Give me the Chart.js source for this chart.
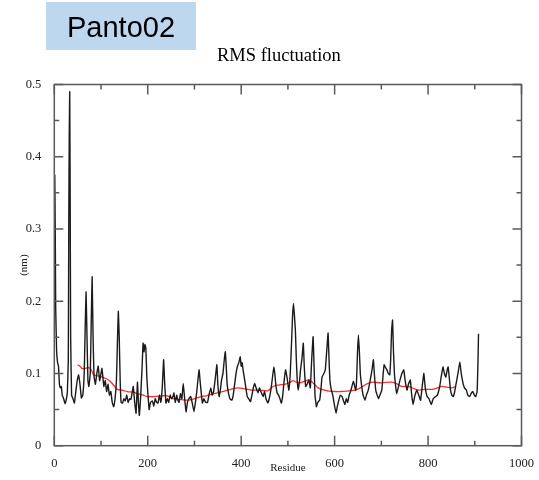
<!DOCTYPE html>
<html>
<head>
<meta charset="utf-8">
<script src="https://cdn.jsdelivr.net/npm/chart.js@4.4.0/dist/chart.umd.min.js"></script>
<style>
  html, body { margin: 0; padding: 0; background: #fff; }
  #wrap { position: relative; width: 539px; height: 480px; }
</style>
</head>
<body>
<div id="wrap"><canvas id="grafico-rmsf" width="539" height="480"></canvas></div>
<script>
/* RMSF por residuo (nm) */
const RESIDUOS = [1, 2, 3, 5, 7, 9, 11, 13, 15, 17, 20, 23, 26, 28, 30, 31, 32, 33, 34, 35, 37, 40, 43, 46, 49, 52, 55, 58, 61, 64, 66, 68, 70, 72, 74, 77, 79, 81, 83, 85, 88, 91, 94, 97, 100, 102, 104, 106, 109, 112, 115, 118, 121, 124, 127, 130, 133, 135, 137, 139, 141, 143, 146, 149, 152, 155, 158, 161, 164, 167, 169, 172, 175, 178, 180, 182, 185, 188, 190, 192, 194, 196, 198, 200, 203, 206, 210, 213, 216, 219, 222, 225, 228, 231, 234, 236, 239, 242, 245, 248, 251, 254, 256, 259, 262, 264, 267, 270, 273, 276, 279, 282, 285, 288, 292, 295, 299, 302, 305, 308, 310, 312, 315, 317, 320, 324, 328, 331, 335, 338, 341, 344, 348, 350, 353, 356, 358, 361, 364, 366, 368, 370, 373, 376, 380, 383, 386, 389, 392, 395, 398, 400, 402, 404, 407, 410, 413, 416, 420, 423, 426, 429, 432, 436, 439, 442, 447, 450, 453, 457, 460, 463, 465, 468, 470, 472, 474, 477, 480, 483, 486, 489, 492, 495, 498, 502, 505, 508, 510, 512, 514, 516, 518, 520, 522, 525, 527, 530, 533, 535, 538, 541, 545, 548, 551, 554, 556, 558, 561, 564, 568, 571, 573, 577, 580, 583, 586, 588, 590, 593, 596, 600, 603, 606, 609, 612, 616, 619, 622, 625, 628, 631, 634, 637, 640, 642, 645, 647, 649, 651, 653, 655, 658, 661, 665, 668, 672, 676, 680, 683, 685, 688, 691, 694, 697, 701, 704, 706, 709, 712, 715, 718, 720, 722, 724, 726, 728, 731, 733, 736, 740, 744, 748, 751, 755, 758, 762, 765, 768, 772, 776, 780, 784, 788, 791, 794, 798, 802, 807, 811, 816, 820, 825, 828, 832, 835, 838, 841, 843, 846, 848, 851, 854, 857, 860, 864, 868, 871, 875, 878, 882, 885, 889, 892, 896, 899, 902, 905, 907, 908];
const RMSF = [0.375, 0.30, 0.19, 0.13, 0.115, 0.11, 0.085, 0.08, 0.082, 0.07, 0.065, 0.058, 0.065, 0.075, 0.12, 0.31, 0.43, 0.49, 0.34, 0.15, 0.07, 0.065, 0.059, 0.075, 0.09, 0.098, 0.085, 0.066, 0.07, 0.1, 0.16, 0.213, 0.15, 0.09, 0.082, 0.1, 0.17, 0.234, 0.15, 0.096, 0.085, 0.1, 0.11, 0.09, 0.1, 0.107, 0.095, 0.082, 0.09, 0.075, 0.085, 0.07, 0.075, 0.06, 0.054, 0.065, 0.09, 0.14, 0.186, 0.15, 0.09, 0.06, 0.059, 0.065, 0.062, 0.07, 0.06, 0.065, 0.064, 0.075, 0.082, 0.06, 0.045, 0.088, 0.06, 0.042, 0.07, 0.11, 0.142, 0.13, 0.14, 0.135, 0.095, 0.075, 0.05, 0.06, 0.062, 0.055, 0.065, 0.06, 0.059, 0.07, 0.06, 0.08, 0.119, 0.09, 0.059, 0.065, 0.06, 0.07, 0.065, 0.068, 0.073, 0.06, 0.07, 0.064, 0.06, 0.072, 0.065, 0.086, 0.065, 0.047, 0.06, 0.065, 0.068, 0.06, 0.047, 0.06, 0.075, 0.095, 0.105, 0.09, 0.07, 0.059, 0.065, 0.06, 0.06, 0.07, 0.08, 0.07, 0.075, 0.09, 0.112, 0.085, 0.068, 0.08, 0.091, 0.1, 0.12, 0.13, 0.11, 0.085, 0.072, 0.065, 0.063, 0.07, 0.085, 0.1, 0.11, 0.115, 0.123, 0.11, 0.115, 0.105, 0.093, 0.08, 0.068, 0.065, 0.061, 0.07, 0.08, 0.086, 0.08, 0.073, 0.08, 0.075, 0.068, 0.075, 0.065, 0.059, 0.065, 0.075, 0.084, 0.1, 0.109, 0.1, 0.085, 0.073, 0.07, 0.065, 0.059, 0.07, 0.09, 0.105, 0.095, 0.077, 0.1, 0.146, 0.18, 0.197, 0.18, 0.16, 0.12, 0.09, 0.077, 0.09, 0.105, 0.12, 0.142, 0.11, 0.082, 0.085, 0.091, 0.08, 0.12, 0.151, 0.11, 0.07, 0.054, 0.06, 0.063, 0.08, 0.095, 0.1, 0.105, 0.13, 0.156, 0.12, 0.09, 0.077, 0.07, 0.055, 0.045, 0.055, 0.063, 0.07, 0.068, 0.062, 0.057, 0.065, 0.06, 0.07, 0.075, 0.082, 0.089, 0.085, 0.077, 0.09, 0.13, 0.153, 0.13, 0.1, 0.082, 0.07, 0.063, 0.07, 0.077, 0.09, 0.105, 0.119, 0.1, 0.077, 0.07, 0.065, 0.07, 0.077, 0.1, 0.112, 0.108, 0.105, 0.1, 0.098, 0.12, 0.16, 0.174, 0.13, 0.1, 0.08, 0.072, 0.08, 0.091, 0.1, 0.105, 0.09, 0.077, 0.085, 0.091, 0.07, 0.057, 0.07, 0.077, 0.07, 0.063, 0.085, 0.1, 0.08, 0.068, 0.065, 0.057, 0.065, 0.068, 0.07, 0.082, 0.095, 0.109, 0.1, 0.095, 0.105, 0.109, 0.09, 0.077, 0.07, 0.068, 0.075, 0.086, 0.1, 0.116, 0.1, 0.086, 0.08, 0.077, 0.07, 0.068, 0.072, 0.075, 0.07, 0.068, 0.075, 0.12, 0.155];

/* Media movel (linha vermelha) */
const RESIDUOS_MEDIA = [50, 55, 59, 65, 72, 77, 80, 84, 90, 99, 110, 120, 128, 135, 145, 156, 170, 178, 190, 199, 215, 228, 242, 253, 270, 285, 300, 314, 325, 342, 360, 378, 393, 405, 421, 440, 457, 468, 480, 493, 505, 511, 518, 525, 535, 545, 552, 558, 565, 572, 585, 601, 615, 630, 645, 660, 670, 680, 700, 723, 735, 744, 758, 770, 780, 795, 809, 820, 830, 840, 852, 858];
const RMSF_MEDIA = [0.112, 0.11, 0.107, 0.107, 0.108, 0.107, 0.104, 0.098, 0.097, 0.096, 0.093, 0.089, 0.083, 0.078, 0.077, 0.075, 0.074, 0.072, 0.07, 0.068, 0.068, 0.069, 0.069, 0.065, 0.064, 0.063, 0.065, 0.068, 0.069, 0.072, 0.075, 0.078, 0.08, 0.079, 0.077, 0.077, 0.076, 0.082, 0.084, 0.085, 0.088, 0.09, 0.088, 0.087, 0.089, 0.091, 0.088, 0.084, 0.08, 0.078, 0.076, 0.075, 0.075, 0.076, 0.077, 0.082, 0.086, 0.088, 0.087, 0.088, 0.085, 0.082, 0.082, 0.079, 0.077, 0.078, 0.078, 0.08, 0.082, 0.081, 0.08, 0.082];

const TICKS_X = [0, 200, 400, 600, 800, 1000];
const TICKS_Y = [0, 0.1, 0.2, 0.3, 0.4, 0.5];
const MINOR_X = [100, 300, 500, 700, 900];
const MINOR_Y = [0.05, 0.15, 0.25, 0.35, 0.45];

const SERIF = '"Liberation Serif", "Times New Roman", serif';
const COR_EIXO = '#5a5a5a';

/* Moldura com ticks para dentro nos quatro lados + cabecalho */
const moldura = {
  id: 'moldura',
  afterDraw(chart) {
    const { ctx, chartArea: a, scales: { x, y } } = chart;
    ctx.save();
    ctx.strokeStyle = COR_EIXO;
    ctx.lineWidth = 1.5;
    ctx.strokeRect(a.left, a.top, a.right - a.left, a.bottom - a.top);

    const tickX = (v, len) => {
      const px = x.getPixelForValue(v);
      ctx.beginPath();
      ctx.moveTo(px, a.bottom); ctx.lineTo(px, a.bottom - len);
      ctx.moveTo(px, a.top); ctx.lineTo(px, a.top + len);
      ctx.stroke();
    };
    const tickY = (v, len) => {
      const py = y.getPixelForValue(v);
      ctx.beginPath();
      ctx.moveTo(a.left, py); ctx.lineTo(a.left + len, py);
      ctx.moveTo(a.right, py); ctx.lineTo(a.right - len, py);
      ctx.stroke();
    };
    TICKS_X.forEach(v => tickX(v, 10));
    MINOR_X.forEach(v => tickX(v, 5));
    TICKS_Y.forEach(v => tickY(v, 9));
    MINOR_Y.forEach(v => tickY(v, 5));

    /* cabecalho */
    ctx.fillStyle = '#bdd7ee';
    ctx.fillRect(46, 2, 150, 48);
    ctx.fillStyle = '#000';
    ctx.font = '29px "Liberation Sans", Arial, sans-serif';
    ctx.textAlign = 'center';
    ctx.textBaseline = 'alphabetic';
    ctx.fillText('Panto02', 121, 37);
    ctx.font = '18.5px ' + SERIF;
    ctx.textAlign = 'left';
    ctx.fillText('RMS fluctuation', 217, 61);
    ctx.restore();
  },
};

new Chart(document.getElementById('grafico-rmsf'), {
  type: 'line',
  data: {
    datasets: [
      {
        label: 'RMSF',
        data: RESIDUOS.map((r, i) => ({ x: r, y: RMSF[i] })),
        borderColor: '#1a1a1a',
        borderWidth: 1.4,
        pointRadius: 0,
        tension: 0.1,
      },
      {
        label: 'Media',
        data: RESIDUOS_MEDIA.map((r, i) => ({ x: r, y: RMSF_MEDIA[i] })),
        borderColor: '#ff2a2a',
        borderWidth: 1.3,
        pointRadius: 0,
        tension: 0.3,
      },
    ],
  },
  options: {
    responsive: false,
    animation: false,
    layout: { padding: { left: 0, top: 84.5, right: 17.5, bottom: 0 } },
    plugins: { legend: { display: false }, tooltip: { enabled: false } },
    scales: {
      x: {
        type: 'linear',
        min: 0,
        max: 1000,
        afterBuildTicks: (s) => { s.ticks = TICKS_X.map(v => ({ value: v })); },
        afterFit: (s) => { s.height = 34.3; },
        grid: { display: false },
        border: { display: false },
        ticks: { color: '#222', padding: 3, maxRotation: 0, font: { family: SERIF, size: 12.5 }, callback: (v) => String(v) },
        title: { display: true, text: 'Residue', color: '#222', padding: { top: 0, bottom: 5 }, font: { family: SERIF, size: 11 } },
      },
      y: {
        min: 0,
        max: 0.5,
        afterBuildTicks: (s) => { s.ticks = TICKS_Y.map(v => ({ value: v })); },
        afterFit: (s) => { s.width = 54.3; },
        grid: { display: false },
        border: { display: false },
        ticks: { color: '#222', padding: 5, font: { family: SERIF, size: 12.5 }, callback: (v) => v === 0 ? '0' : v.toFixed(1) },
        title: { display: true, text: '(nm)', color: '#222', padding: { top: 18, bottom: 0 }, font: { family: SERIF, size: 11 } },
      },
    },
  },
  plugins: [moldura],
});
</script>
</body>
</html>
